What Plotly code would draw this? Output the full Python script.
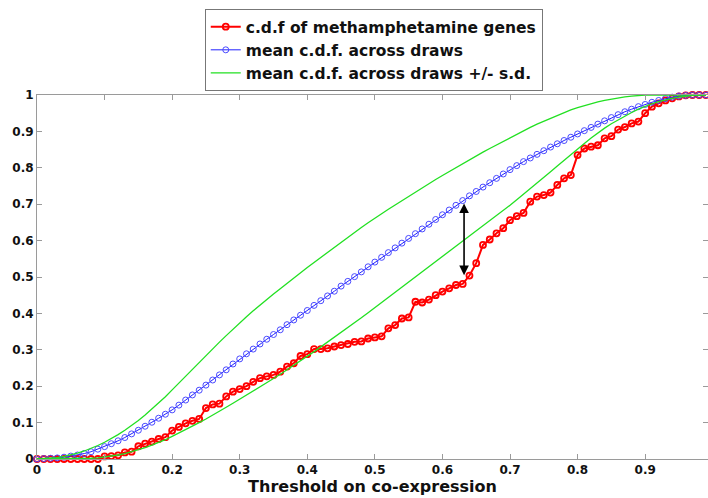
import numpy as np
import plotly.graph_objects as go

# threshold grid (0.00 .. 0.99)
threshold = np.round(np.arange(0, 1.0, 0.01), 2)

cdf_meth = [
    0, 0, 0, 0, 0, 0, 0, 0, 0, 0,
    0.007, 0.008, 0.010, 0.018, 0.020, 0.035, 0.042, 0.048, 0.055, 0.060,
    0.078, 0.088, 0.098, 0.105, 0.110, 0.140, 0.150, 0.152, 0.172, 0.185,
    0.192, 0.200, 0.212, 0.222, 0.227, 0.231, 0.240, 0.254, 0.263, 0.283,
    0.288, 0.302, 0.302, 0.304, 0.309, 0.313, 0.316, 0.322, 0.323, 0.331,
    0.334, 0.337, 0.359, 0.368, 0.386, 0.389, 0.432, 0.430, 0.438, 0.450,
    0.460, 0.469, 0.478, 0.481, 0.504, 0.538, 0.588, 0.603, 0.620, 0.634,
    0.656, 0.667, 0.676, 0.707, 0.721, 0.725, 0.732, 0.753, 0.771, 0.780,
    0.835, 0.853, 0.858, 0.862, 0.881, 0.887, 0.905, 0.912, 0.922, 0.927,
    0.950, 0.968, 0.977, 0.985, 0.991, 0.996, 0.999, 1.0, 1.0, 1.0,
]

cdf_mean = [
    0, 0.001, 0.002, 0.003, 0.005, 0.008, 0.011, 0.015, 0.020, 0.027,
    0.034, 0.042, 0.050, 0.059, 0.069, 0.079, 0.090, 0.101, 0.112, 0.123,
    0.135, 0.148, 0.162, 0.176, 0.189, 0.203, 0.217, 0.231, 0.245, 0.261,
    0.275, 0.289, 0.302, 0.316, 0.329, 0.342, 0.355, 0.369, 0.382, 0.395,
    0.408, 0.422, 0.435, 0.448, 0.461, 0.475, 0.488, 0.501, 0.514, 0.528,
    0.541, 0.554, 0.567, 0.580, 0.593, 0.606, 0.619, 0.632, 0.645, 0.658,
    0.671, 0.684, 0.697, 0.710, 0.723, 0.735, 0.747, 0.759, 0.771, 0.783,
    0.795, 0.806, 0.817, 0.827, 0.837, 0.847, 0.857, 0.866, 0.875, 0.884,
    0.893, 0.902, 0.911, 0.920, 0.929, 0.938, 0.946, 0.954, 0.961, 0.968,
    0.974, 0.980, 0.985, 0.990, 0.994, 0.997, 0.999, 1.0, 1.0, 1.0,
]

cdf_upper = [
    0, 0.001, 0.002, 0.004, 0.007, 0.011, 0.016, 0.022, 0.029, 0.037,
    0.046, 0.056, 0.067, 0.079, 0.092, 0.106, 0.121, 0.137, 0.154, 0.171,
    0.190, 0.209, 0.228, 0.247, 0.266, 0.285, 0.303, 0.321, 0.339, 0.357,
    0.375, 0.391, 0.407, 0.423, 0.438, 0.453, 0.468, 0.483, 0.498, 0.512,
    0.526, 0.540, 0.554, 0.568, 0.582, 0.596, 0.610, 0.623, 0.636, 0.649,
    0.662, 0.674, 0.686, 0.698, 0.710, 0.722, 0.734, 0.746, 0.757, 0.768,
    0.779, 0.790, 0.801, 0.811, 0.822, 0.832, 0.843, 0.853, 0.863, 0.873,
    0.883, 0.892, 0.902, 0.911, 0.920, 0.928, 0.936, 0.944, 0.952, 0.959,
    0.965, 0.971, 0.976, 0.981, 0.985, 0.989, 0.992, 0.995, 0.997, 0.999,
    1.0, 1.0, 1.0, 1.0, 1.0, 1.0, 1.0, 1.0, 1.0, 1.0,
]

cdf_lower = [
    0, 0, 0, 0, 0, 0, 0, 0.001, 0.002, 0.003,
    0.005, 0.008, 0.011, 0.015, 0.020, 0.025, 0.031, 0.038, 0.045, 0.053,
    0.062, 0.071, 0.080, 0.090, 0.100, 0.110, 0.120, 0.131, 0.142, 0.153,
    0.164, 0.175, 0.186, 0.197, 0.209, 0.221, 0.233, 0.245, 0.257, 0.269,
    0.282, 0.295, 0.308, 0.321, 0.334, 0.348, 0.361, 0.375, 0.388, 0.402,
    0.416, 0.430, 0.443, 0.457, 0.471, 0.485, 0.499, 0.513, 0.527, 0.541,
    0.555, 0.569, 0.583, 0.597, 0.611, 0.625, 0.640, 0.654, 0.668, 0.683,
    0.697, 0.712, 0.727, 0.742, 0.757, 0.773, 0.789, 0.805, 0.821, 0.837,
    0.852, 0.867, 0.882, 0.896, 0.909, 0.921, 0.932, 0.942, 0.952, 0.961,
    0.969, 0.976, 0.982, 0.987, 0.991, 0.994, 0.997, 0.999, 1.0, 1.0,
]

# double arrow marking the largest gap
arrow_x = 0.632
arrow_y = [0.505, 0.706]

x_ticks = [0, 0.1, 0.2, 0.3, 0.4, 0.5, 0.6, 0.7, 0.8, 0.9]
y_ticks = [0, 0.1, 0.2, 0.3, 0.4, 0.5, 0.6, 0.7, 0.8, 0.9, 1]

font = "DejaVu Sans"

fig = go.Figure()

fig.add_trace(go.Scatter(
    x=threshold, y=cdf_meth, name="c.d.f of methamphetamine genes",
    mode="lines+markers", cliponaxis=False,
    line=dict(color="#ff0000", width=2),
    marker=dict(symbol="circle-open", size=6, color="#ff0000", line=dict(width=1.8))))

fig.add_trace(go.Scatter(
    x=threshold, y=cdf_mean, name="mean c.d.f. across draws",
    mode="lines+markers", cliponaxis=False,
    line=dict(color="#2020ff", width=1),
    marker=dict(symbol="circle-open", size=6, color="#4a4aff", line=dict(width=1))))

fig.add_trace(go.Scatter(
    x=threshold, y=cdf_upper, name="mean c.d.f. across draws +/- s.d.",
    mode="lines", cliponaxis=False, line=dict(color="#22e022", width=1.3)))

fig.add_trace(go.Scatter(
    x=threshold, y=cdf_lower, showlegend=False,
    mode="lines", cliponaxis=False, line=dict(color="#22e022", width=1.3)))

fig.add_annotation(
    x=arrow_x, y=arrow_y[0], ax=arrow_x, ay=arrow_y[1],
    xref="x", yref="y", axref="x", ayref="y", text="",
    showarrow=True, arrowside="end+start", arrowhead=2, startarrowhead=2,
    arrowsize=1.2, startarrowsize=1.2, arrowwidth=1.6, arrowcolor="#000000")

axis_style = dict(
    showline=True, linecolor="#9a9a9a", linewidth=1, mirror="ticks",
    ticks="inside", ticklen=5, tickcolor="#9a9a9a", showgrid=False,
    zeroline=False,
    tickfont=dict(family=font, size=12, color="#111111", weight="bold"))

fig.update_xaxes(range=[0, 0.993], tickvals=x_ticks,
                 ticktext=[f"{v:g}" for v in x_ticks],
                 title=dict(text="Threshold on co-expression",
                            font=dict(family=font, size=16, color="#111111",
                                      weight="bold"),
                            standoff=4),
                 automargin=False,
                 **axis_style)
fig.update_yaxes(range=[0, 1], tickvals=y_ticks, automargin=False,
                 ticktext=[f"{v:g}" for v in y_ticks], **axis_style)

fig.update_layout(
    width=708, height=498,
    margin=dict(l=37, r=0, t=95, b=39, autoexpand=False),
    paper_bgcolor="white", plot_bgcolor="white",
    font=dict(family=font, color="#111111"),
    legend=dict(x=0.25, y=1.236, xanchor="left", yanchor="top",
                bgcolor="white", bordercolor="#777777", borderwidth=1,
                font=dict(family=font, size=15.5, color="#111111", weight="bold"),
                tracegroupgap=0),
)

fig.write_html("out.html", config={"displayModeBar": False},
               post_script="document.body.style.margin='0';")
